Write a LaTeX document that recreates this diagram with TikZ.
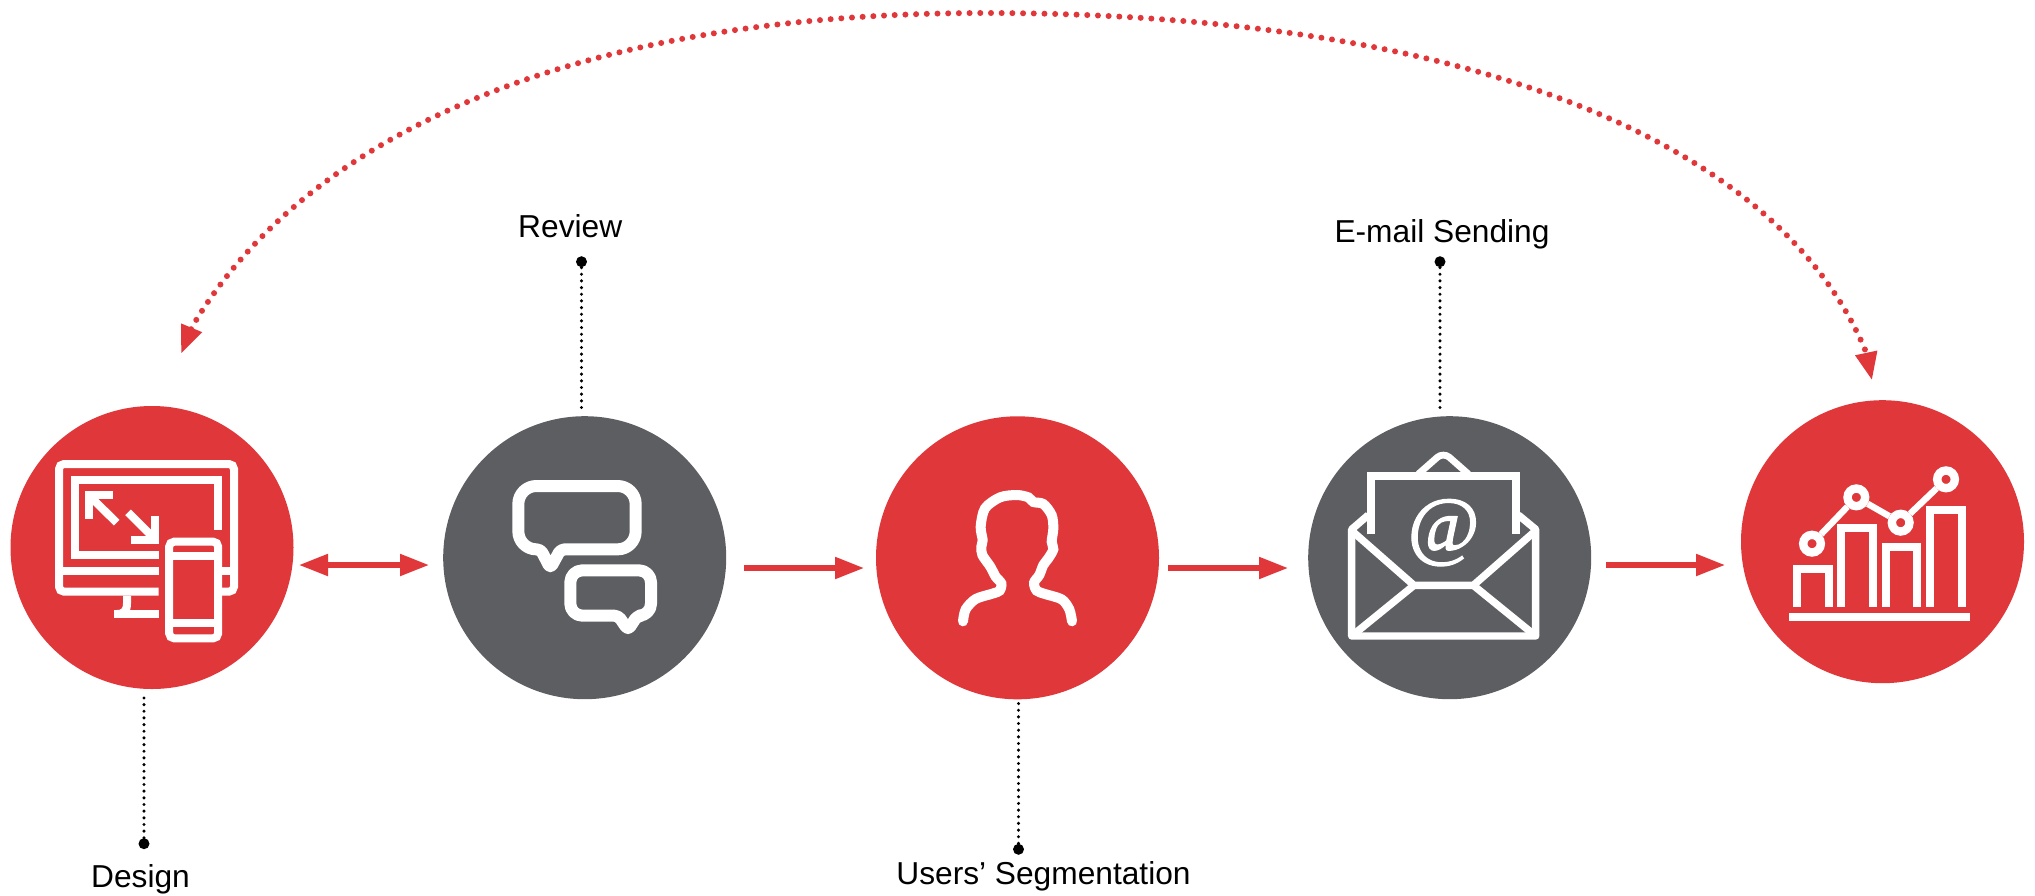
\documentclass[tikz,border=0pt]{standalone}
\usepackage{fontspec}
\setmainfont{Liberation Sans}
\newfontfamily\atfont[FakeBold=1.6]{Liberation Serif}
\usetikzlibrary{arrows.meta}
\definecolor{flowred}{HTML}{E0373A}
\definecolor{flowgray}{HTML}{5D5E62}
\tikzset{
    disc/.style={circle,fill=#1,minimum size=141.5pt,inner sep=0pt},
    caption/.style={anchor=base,inner sep=0pt,font=\fontsize{15.85}{18}\selectfont},
    pin/.style={circle,fill=black,minimum size=5.5pt,inner sep=0pt},
    leader/.style={draw=black,line width=1.7pt,line cap=round,dash pattern=on 0pt off 3.33pt},
    flow/.style={draw=flowred,line width=2.6pt,-{Triangle[length=14.5pt,width=10.5pt]}},
    flowboth/.style={draw=flowred,line width=2.6pt,{Triangle[length=14.5pt,width=10.5pt]}-{Triangle[length=14.5pt,width=10.5pt]}},
    loopback/.style={draw=flowred,line width=3pt,line cap=round,dash pattern=on 0pt off 5.35pt,{Triangle[length=14pt,width=10.5pt]}-{Triangle[length=14pt,width=10.5pt]}},
    icon/.style={x=0.16667pt,y=-0.16667pt},
    stroke/.style={draw=white,line width=#1},
    stroke/.default=4pt
}
\begin{document}
\begin{tikzpicture}[x=0.5pt,y=-0.5pt]
    \useasboundingbox (0,0) rectangle (2035,895);
    \node[disc=flowred] (design) at (152,547.5) {};
    \node[disc=flowgray] (review) at (584.7,557.7) {};
    \node[disc=flowred] (users) at (1017.5,557.8) {};
    \node[disc=flowgray] (email) at (1449.7,557.7) {};
    \node[disc=flowred] (chart) at (1882.5,541.7) {};
    \node[caption] (designtext) at (140.5,887.5) {Design};
    \node[caption] (reviewtext) at (570.2,237.2) {Review};
    \node[caption] (userstext) at (1043.5,884) {Users’ Segmentation};
    \node[caption] (emailtext) at (1442,242.2) {E-mail Sending};
    \node[pin] (pindesign) at (144,843.7) {};
    \node[pin] (pinreview) at (581.5,261.7) {};
    \node[pin] (pinusers) at (1018.5,849.3) {};
    \node[pin] (pinemail) at (1440,261.7) {};
    \draw[leader,shorten >=3pt] (pindesign) -- (pindesign |- design.south);
    \draw[leader,shorten >=1pt] (pinreview) -- (pinreview |- review.north);
    \draw[leader,shorten >=1pt] (pinusers) -- (pinusers |- users.south);
    \draw[leader,shorten >=1pt] (pinemail) -- (pinemail |- email.north);
    \coordinate (linkaleft) at (299,565);
    \coordinate (linkaright) at (429,565);
    \coordinate (linkbleft) at (744,568);
    \coordinate (linkbright) at (864,568);
    \coordinate (linkcleft) at (1168,568);
    \coordinate (linkcright) at (1288,568);
    \coordinate (linkdleft) at (1606,565);
    \coordinate (linkdright) at (1725,565);
    \draw[flowboth] (linkaleft) -- (linkaright);
    \draw[flow] (linkbleft) -- (linkbright);
    \draw[flow] (linkcleft) -- (linkcright);
    \draw[flow] (linkdleft) -- (linkdright);
    \coordinate (backleft) at (181,353.7);
    \coordinate (backtop) at (985,13);
    \coordinate (backright) at (1872,380.3);
    \draw[loopback] (backleft) -- (192,327) .. controls (302,140) and (565,13) .. (backtop)
        .. controls (1435,13) and (1773,127) .. (1866,352) -- (backright);
    \begin{scope}[shift={(0,390)},icon]
        \draw[stroke,rounded corners=2.5pt] (476,605) -- (177,605) -- (177,222) -- (702,222) -- (702,605) -- (666,605);
        \draw[stroke] (177,543) -- (476,543);
        \draw[stroke] (666,543) -- (702,543);
        \draw[stroke] (476,495) -- (224,495) -- (224,269) -- (654,269) -- (654,420);
        \draw[stroke] (339,316) -- (267,316) -- (267,388);
        \draw[stroke] (267,316) -- (350,398);
        \draw[stroke] (394,449) -- (466,449) -- (466,378);
        \draw[stroke] (384,367) -- (466,449);
        \draw[stroke] (381,617) -- (381,640) .. controls (381,662) and (372,672) .. (350,672);
        \draw[stroke] (342,672) -- (476,672);
        \draw[stroke,rounded corners=2.5pt] (507.5,455) rectangle (654.5,745);
        \draw[stroke] (507.5,498) -- (654.5,498);
        \draw[stroke] (507.5,698) -- (654.5,698);
    \end{scope}
    \begin{scope}[shift={(430,400)},icon]
        \draw[stroke=6pt,line join=round] (361,505) [rounded corners=2pt] -- (332,448) [rounded corners=9pt] -- (265,448)
            -- (265,258) -- (617,258) -- (617,448) [rounded corners=2pt] -- (392,448) -- cycle;
        \draw[stroke=6pt,line join=round] (594,690) [rounded corners=2pt] -- (622,647) [rounded corners=6pt] -- (663,647)
            -- (663,511) -- (421,511) -- (421,647) [rounded corners=2pt] -- (565,647) -- cycle;
    \end{scope}
    \begin{scope}[shift={(860,400)},icon]
        \draw[stroke=5pt,line cap=round] plot[smooth,tension=0.5] coordinates {(309,664) (317,628) (347,597) (397,581)
            (419,572) (424,550) (407,530) (391,500) (367,465) (364,440) (368,420) (362,380) (375,325) (420,292)
            (470,285) (505,292) (520,306) (550,312) (575,345) (580,385) (575,425) (580,448) (565,475) (550,495)
            (538,525) (522,548) (530,572) (555,582) (605,598) (628,628) (636,664)};
    \end{scope}
    \begin{scope}[shift={(1300,400)},icon]
        \draw[stroke=3.7pt,line join=round] (205,345) -- (155,388) -- (155,708) -- (707,708) -- (707,388) -- (655,345);
        \draw[stroke=3.7pt] (155,392) -- (342,556) -- (520,556) -- (707,392);
        \draw[stroke=3.7pt] (155,708) -- (342,556);
        \draw[stroke=3.7pt] (520,556) -- (707,708);
        \draw[stroke] (212,403) -- (212,228) -- (648,228) -- (648,403);
        \draw[stroke=3.4pt,rounded corners=4pt] (355,222) -- (430,156) -- (505,222);
        \node[text=white,inner sep=0pt,font=\atfont\fontsize{39}{40}\selectfont] (atsign) at (431,398) {@};
    \end{scope}
    \begin{scope}[shift={(1720,390)},icon]
        \foreach \barx/\bary in {231/538,364/415,497/470,630/361} {
            \draw[stroke] (\barx,650) -- (\barx,\bary) -- ({\barx+95},\bary) -- ({\barx+95},650);
        }
        \draw[stroke=4.2pt] (207,681.5) -- (750,681.5);
        \node[circle,stroke=4.2pt,minimum size=8.83pt,inner sep=0pt] (pointa) at (276,461) {};
        \node[circle,stroke=4.2pt,minimum size=8.83pt,inner sep=0pt] (pointb) at (409,322) {};
        \node[circle,stroke=4.2pt,minimum size=8.83pt,inner sep=0pt] (pointc) at (542,398) {};
        \node[circle,stroke=4.2pt,minimum size=8.83pt,inner sep=0pt] (pointd) at (678,268) {};
        \draw[stroke=3.2pt] (pointa) -- (pointb);
        \draw[stroke=3.2pt] (pointb) -- (pointc);
        \draw[stroke=3.2pt] (pointc) -- (pointd);
    \end{scope}
\end{tikzpicture}
\end{document}
